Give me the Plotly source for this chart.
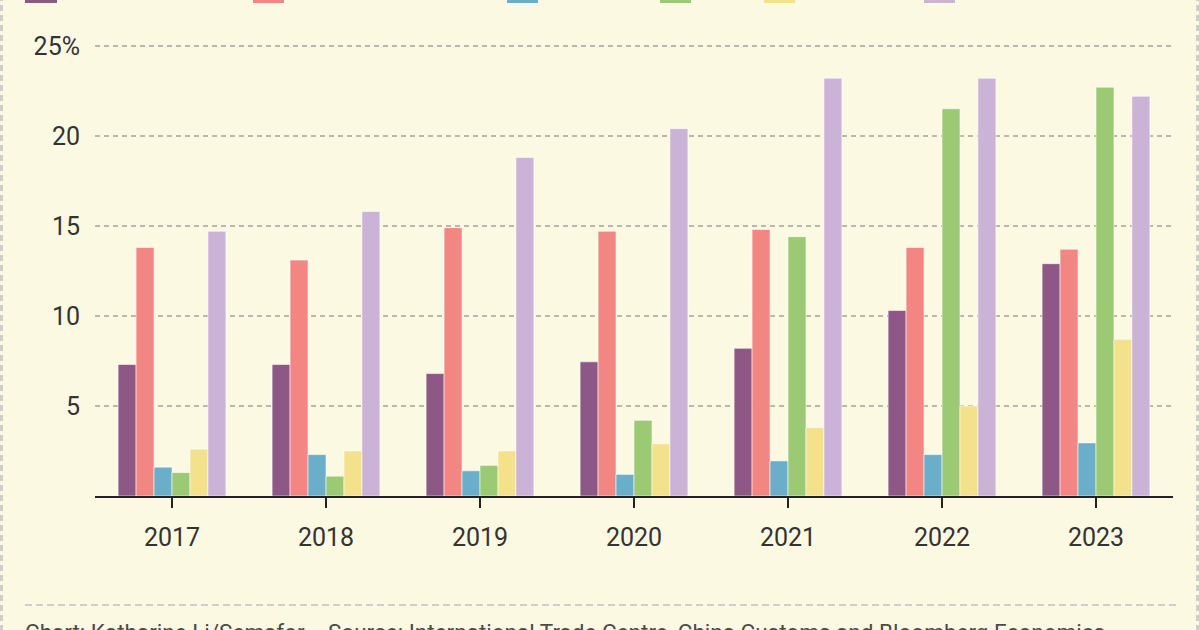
import plotly.graph_objects as go

years = ["2017", "2018", "2019", "2020", "2021", "2022", "2023"]
s1 = [7.3, 7.3, 6.8, 7.45, 8.2, 10.3, 12.9]
s2 = [13.8, 13.1, 14.9, 14.7, 14.8, 13.8, 13.7]
s3 = [1.6, 2.3, 1.4, 1.2, 1.95, 2.3, 2.95]
s4 = [1.3, 1.1, 1.7, 4.2, 14.4, 21.5, 22.7]
s5 = [2.6, 2.5, 2.5, 2.9, 3.8, 5.0, 8.7]
s6 = [14.7, 15.8, 18.8, 20.4, 23.2, 23.2, 22.2]
series = [s1, s2, s3, s4, s5, s6]
colors = ["#8d5786", "#f28682", "#6aaeca", "#9bc974", "#f4e18b", "#cbb3d8"]
ytick_vals = [5, 10, 15, 20, 25]
ytick_text = ["5", "10", "15", "20", "25%"]
credit = "Chart: Katharine Li/Semafor"
source = "Source: International Trade Centre, China Customs and Bloomberg Economics"

BG = "#fcf9e3"
W, H = 1199, 630
L, R, T, B = 95, 26, 44, 134
pw, ph = W - L - R, H - T - B

def px_x(px):
    return (px - L) / pw

def px_y(py):
    return (H - B - py) / ph

fig = go.Figure()
for vals, c in zip(series, colors):
    fig.add_trace(go.Bar(x=years, y=vals, marker=dict(color=c, line=dict(color="rgba(255,255,255,0.55)", width=1)),
                         showlegend=False, hoverinfo="y"))

shapes = []
# legend swatches (text cut off above the frame)
for (x0, x1), c in zip([(25, 57), (253, 284), (507, 538), (660, 691), (764, 795), (924, 955)], colors):
    shapes.append(dict(type="rect", xref="paper", yref="paper", x0=px_x(x0), x1=px_x(x1),
                       y0=px_y(3), y1=px_y(-6), fillcolor=c, line=dict(width=0), layer="above"))
# side dashed borders
for xp in [1.5, 1197.5]:
    shapes.append(dict(type="line", xref="paper", yref="paper", x0=px_x(xp), x1=px_x(xp),
                       y0=px_y(-5), y1=px_y(635), line=dict(color="#cfcfc8", width=3, dash="6px,4px")))
# footer rule
shapes.append(dict(type="line", xref="paper", yref="paper", x0=px_x(25), x1=px_x(1176),
                   y0=px_y(605), y1=px_y(605), line=dict(color="#cfcfc8", width=2, dash="7px,4px")))

foot_font = dict(size=22.5, color="#4a4a4a", family="Roboto, sans-serif")
fig.update_layout(
    width=W, height=H,
    margin=dict(l=L, r=R, t=T, b=B, pad=0),
    paper_bgcolor=BG, plot_bgcolor=BG,
    barmode="group", bargap=0.3, bargroupgap=0,
    font=dict(family="Roboto, sans-serif", color="#333333", size=25),
    shapes=shapes,
    annotations=[
        dict(text=credit, xref="paper", yref="paper", x=px_x(23), y=px_y(617),
             xanchor="left", yanchor="top", showarrow=False, font=foot_font),
        dict(text=source, xref="paper", yref="paper", x=px_x(326), y=px_y(617),
             xanchor="left", yanchor="top", showarrow=False, font=foot_font),
    ],
    xaxis=dict(type="category", range=[-0.5, 6.5], showgrid=False, showline=True,
               linecolor="#222222", linewidth=2, ticks="outside", ticklen=10, tickwidth=2,
               tickcolor="#222222", tickfont=dict(size=25, color="#333333"), zeroline=False,
               ticklabelstandoff=8),
    yaxis=dict(range=[0, 25.1], tickvals=ytick_vals, ticktext=ytick_text, showgrid=True,
               gridcolor="#b9b8aa", gridwidth=2, griddash="5px,4px", zeroline=False,
               showline=False, ticks="", ticklabelstandoff=14,
               tickfont=dict(size=25, color="#333333")),
)

fig.write_html("out.html", config={"displayModeBar": False},
               post_script="document.body.style.margin='0';document.body.style.padding='0';")
